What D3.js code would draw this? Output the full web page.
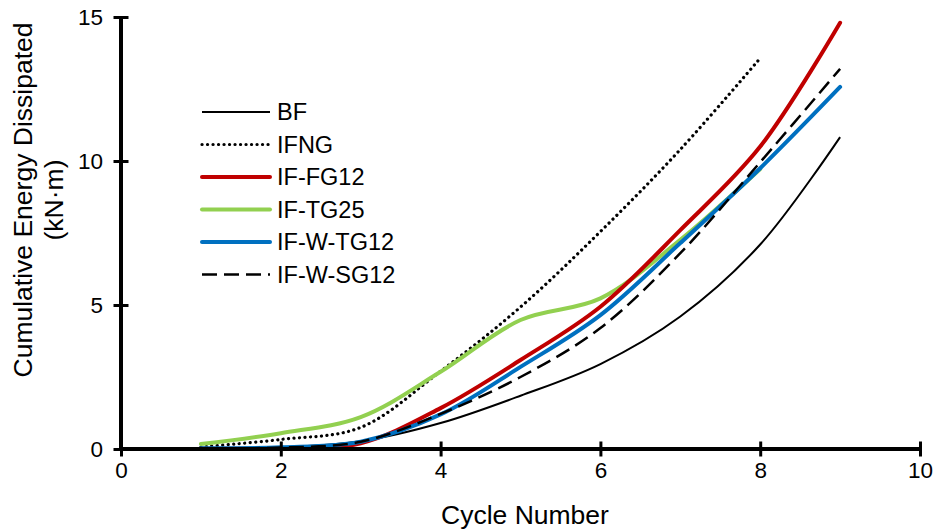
<!DOCTYPE html>
<html>
<head>
<meta charset="utf-8">
<script src="https://cdn.jsdelivr.net/npm/d3@7"></script>
<style>
  body { margin: 0; background: #fff; }
  text { font-family: Arial, "Liberation Sans", sans-serif; fill: #000; }
</style>
</head>
<body>
<div id="chart"></div>
<script type="text/javascript">

      // data
      var cycles = [1, 2, 3, 4, 5, 6, 7, 8, 9];
      var bf      = [0.02, 0.06, 0.27, 0.90, 1.85, 2.95, 4.60, 7.10, 10.83];
      var ifng    = [0.07, 0.33, 0.75, 2.70, 4.93, 7.55, 10.40, 13.57];
      var ifFG12  = [0.02, 0.02, 0.20, 1.42, 3.09, 4.94, 7.60, 10.50, 14.80];
      var ifTG25  = [0.17, 0.55, 1.11, 2.68, 4.48, 5.23, 7.26, 9.72];
      var ifWTG12 = [0.03, 0.06, 0.25, 1.20, 2.85, 4.65, 7.15, 9.75, 12.57];
      var ifWSG12 = [0.02, 0.05, 0.25, 1.22, 2.50, 4.20, 6.80, 9.96, 13.20];

      var xTicks = [0, 2, 4, 6, 8, 10];
      var yTicks = [0, 5, 10, 15];

      var series = [
        {name: "BF",        vals: bf,      color: "#000000", width: 2,   dash: null,      cap: "butt"},
        {name: "IFNG",      vals: ifng,    color: "#000000", width: 3.2, dash: "0.1,5.4", cap: "round"},
        {name: "IF-FG12",   vals: ifFG12,  color: "#C00000", width: 4,   dash: null,      cap: "round"},
        {name: "IF-TG25",   vals: ifTG25,  color: "#92D050", width: 4,   dash: null,      cap: "round"},
        {name: "IF-W-TG12", vals: ifWTG12, color: "#0070C0", width: 4,   dash: null,      cap: "round"},
        {name: "IF-W-SG12", vals: ifWSG12, color: "#000000", width: 2.5, dash: "15,7",    cap: "butt"}
      ];

      var w = 938, h = 529;
      var margin = {top: 17, right: 18, bottom: 80, left: 121};

      var svg = d3.select("#chart")
                  .append("svg")
                  .attr("width", w)
                  .attr("height", h);

      var x = d3.scaleLinear().domain([0, 10]).range([margin.left, w - margin.right]);
      var y = d3.scaleLinear().domain([0, 15]).range([h - margin.bottom, margin.top]);

      var line = d3.line()
                   .x(function(d) { return x(d[0]); })
                   .y(function(d) { return y(d[1]); })
                   .curve(d3.curveCatmullRom.alpha(0.5));

      // draw order: green under blue
      var order = [0, 1, 3, 2, 4, 5];
      order.forEach(function(i) {
        var s = series[i];
        svg.append("path")
           .datum(s.vals.map(function(v, j) { return [cycles[j], v]; }))
           .attr("d", line)
           .attr("fill", "none")
           .attr("stroke", s.color)
           .attr("stroke-width", s.width)
           .attr("stroke-linecap", s.cap)
           .attr("stroke-dasharray", s.dash);
      });

      // axes
      var xAxis = svg.append("g")
                     .attr("transform", "translate(0," + y(0) + ")")
                     .call(d3.axisBottom(x).tickValues(xTicks).tickSize(7.5).tickSizeOuter(0));
      xAxis.selectAll(".tick line").attr("y1", -7.5).attr("stroke-width", 3);
      xAxis.select(".domain").attr("stroke-width", 4).attr("d", "M" + x(0) + ",0H" + x(10));
      xAxis.selectAll(".tick text").attr("font-size", 22.5).attr("dy", "0.71em").attr("y", 13);

      var yAxis = svg.append("g")
                     .attr("transform", "translate(" + x(0) + ",0)")
                     .call(d3.axisLeft(y).tickValues(yTicks).tickSize(7.5).tickSizeOuter(0));
      yAxis.selectAll(".tick line").attr("x1", 7.5).attr("x2", -7.5).attr("stroke-width", 3);
      yAxis.select(".domain").attr("stroke-width", 4).attr("d", "M0," + y(0) + "V" + y(15));
      yAxis.selectAll(".tick text").attr("font-size", 22.5).attr("x", -18);
      svg.selectAll(".tick text").attr("font-family", "Arial, 'Liberation Sans', sans-serif");

      // axis titles
      svg.append("text")
         .attr("x", 525).attr("y", 524)
         .attr("text-anchor", "middle")
         .attr("font-size", 26.5)
         .text("Cycle Number");

      svg.append("text")
         .attr("transform", "translate(32,200) rotate(-90)")
         .attr("text-anchor", "middle")
         .attr("font-size", 26.5)
         .text("Cumulative Energy Dissipated");
      svg.append("text")
         .attr("transform", "translate(63,200) rotate(-90)")
         .attr("text-anchor", "middle")
         .attr("font-size", 26.5)
         .text("(kN·m)");

      // legend
      var legend = svg.append("g");
      series.forEach(function(s, i) {
        var ly = 112 + i * 32.5;
        legend.append("line")
              .attr("x1", 202).attr("x2", 270)
              .attr("y1", ly).attr("y2", ly)
              .attr("stroke", s.color)
              .attr("stroke-width", s.width)
              .attr("stroke-linecap", s.cap)
              .attr("stroke-dasharray", s.dash);
        legend.append("text")
              .attr("x", 277).attr("y", ly)
              .attr("dy", "0.36em")
              .attr("font-size", 23.5)
              .text(s.name);
      });

</script>
</body>
</html>
